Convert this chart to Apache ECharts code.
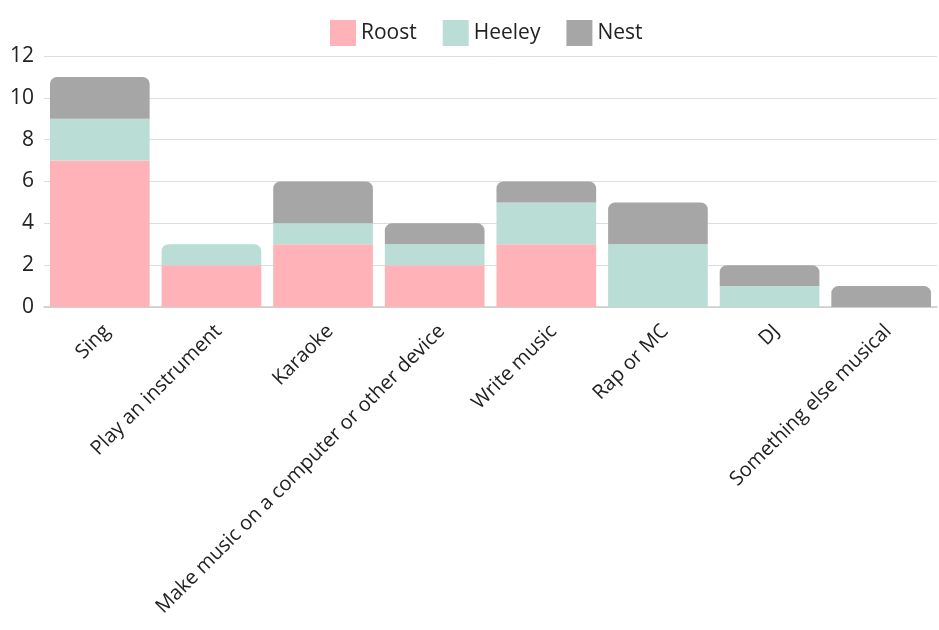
<!DOCTYPE html>
<html>
<head>
<meta charset="utf-8">
<script src="https://cdn.jsdelivr.net/npm/echarts@6/dist/echarts.min.js"></script>
<style>
  html, body { margin: 0; padding: 0; background: #fff; }
  #main { width: 939px; height: 630px; }
</style>
</head>
<body>
<div id="main"></div>
<script>
var categories = ['Sing', 'Play an instrument', 'Karaoke', 'Make music on a computer or other device',
  'Write music', 'Rap or MC', 'DJ', 'Something else musical'];
var roost = [7, 2, 3, 2, 3, 0, 0, 0];
var heeley = [2, 1, 1, 1, 2, 3, 1, 0];
var nest = [2, 0, 2, 1, 1, 2, 1, 1];
var yTicks = [0, 2, 4, 6, 8, 10, 12];

var seriesDefs = [
  { name: 'Roost', values: roost, color: '#FFB3B8' },
  { name: 'Heeley', values: heeley, color: '#BADED6' },
  { name: 'Nest', values: nest, color: '#A6A6A6' }
];

// round the top of each stack only
function topIndex(i) {
  var top = -1;
  for (var s = 0; s < seriesDefs.length; s++) {
    if (seriesDefs[s].values[i] > 0) top = s;
  }
  return top;
}

var series = seriesDefs.map(function (def, s) {
  return {
    name: def.name,
    type: 'bar',
    stack: 'total',
    barCategoryGap: '10.7%',
    itemStyle: { color: def.color },
    data: def.values.map(function (v, i) {
      return {
        value: v,
        itemStyle: { borderRadius: topIndex(i) === s ? [7, 7, 0, 0] : 0 }
      };
    })
  };
});

var chart = echarts.init(document.getElementById('main'));
chart.setOption({
  animation: false,
  textStyle: { fontFamily: 'Open Sans' },
  legend: {
    top: 15,
    left: 325,
    itemWidth: 26,
    itemHeight: 26,
    itemGap: 26,
    icon: 'rect',
    textStyle: { fontSize: 21, color: '#222', fontFamily: 'Open Sans' }
  },
  grid: { left: 44, right: 2, top: 56, bottom: 323 },
  xAxis: {
    type: 'category',
    data: categories,
    axisTick: { show: false },
    axisLine: { lineStyle: { color: '#ccc', width: 1.5 } },
    axisLabel: {
      rotate: 45, fontSize: 20, color: '#222', interval: 0,
      margin: 14, verticalAlign: 'top'
    }
  },
  yAxis: {
    type: 'value',
    min: yTicks[0],
    max: yTicks[yTicks.length - 1],
    interval: 2,
    axisLabel: { fontSize: 21, color: '#222', margin: 10 },
    splitLine: { lineStyle: { color: '#ddd' } }
  },
  series: series
});
</script>
</body>
</html>
